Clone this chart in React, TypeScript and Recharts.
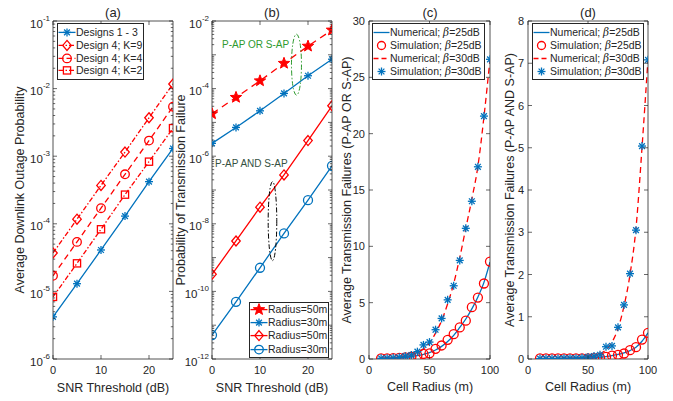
import React from 'react';
import { LineChart, Line, XAxis, YAxis, Legend, ReferenceDot } from 'recharts';

const FONT = '"Liberation Sans", Arial, Helvetica, sans-serif';
const BLUE = '#0072BD';
const RED = '#FF0000';
const AX = '#262626';
const GREEN = '#2e9a2e';
const DARKNOTE = '#34503f';

// ---------- Panel (a) ----------
const snrA = [0, 5, 10, 15, 20, 25];
const designs13 = [4.2e-6, 1.3e-5, 4.1e-5, 1.3e-4, 4.2e-4, 1.3e-3];
const design4K9 = [3.7e-5, 1.17e-4, 3.7e-4, 1.15e-3, 3.7e-3, 1.17e-2];
const design4K4 = [1.7e-5, 5.4e-5, 1.7e-4, 5.4e-4, 1.7e-3, 5.4e-3];
const design4K2 = [8.3e-6, 2.6e-5, 8.3e-5, 2.7e-4, 8.3e-4, 2.6e-3];
const xTicksSnr = [0, 10, 20];
const yDecadesA = [-6, -5, -4, -3, -2, -1];

// ---------- Panel (b) ----------
const snrB = [0, 5, 10, 15, 20, 25];
const orR50 = [1.8e-5, 5.5e-5, 1.7e-4, 5.6e-4, 1.8e-3, 5.4e-3];
const orR30 = [2.4e-6, 7.1e-6, 2.2e-5, 7.2e-5, 2.4e-4, 7.4e-4];
const andR50 = [3.2e-10, 3.1e-9, 3.1e-8, 2.8e-7, 2.9e-6, 3.1e-5];
const andR30 = [5.1e-12, 4.9e-11, 5.0e-10, 5.2e-9, 5.0e-8, 5.2e-7];
const yDecadesB = [-12, -11, -10, -9, -8, -7, -6, -5, -4, -3, -2];
const yLabelDecadesB = [-12, -10, -8, -6, -4, -2];

// ---------- Panels (c) and (d) ----------
const radius = [10, 15, 20, 25, 30, 35, 40, 45, 50, 55, 60, 65, 70, 75, 80, 85, 90, 95, 100];
const orNum25 = [0.05, 0.06, 0.08, 0.1, 0.14, 0.2, 0.29, 0.41, 0.57, 0.8, 1.12, 1.55, 2.1, 2.8, 3.55, 4.45, 5.5, 6.8, 8.6];
const orSim25 = [0.06, 0.06, 0.07, 0.1, 0.15, 0.2, 0.3, 0.45, 0.5, 0.9, 1.2, 1.7, 2.2, 2.8, 3.4, 4.6, 5.45, 6.7, 8.65];
const orNum30 = [0.06, 0.08, 0.11, 0.16, 0.24, 0.37, 0.58, 0.9, 1.4, 2.3, 3.4, 4.9, 6.7, 9.0, 11.6, 14.2, 17.1, 21.5, 26.6];
const orSim30 = [0.06, 0.07, 0.1, 0.15, 0.25, 0.35, 0.65, 1.25, 1.5, 2.6, 3.6, 5.25, 6.5, 8.75, 11.6, 14.0, 17.06, 21.56, 26.6];
const andNum25 = [0.002, 0.003, 0.004, 0.005, 0.007, 0.009, 0.012, 0.016, 0.022, 0.03, 0.042, 0.058, 0.08, 0.108, 0.145, 0.2, 0.28, 0.42, 0.62];
const andSim25 = [0.015, 0.015, 0.015, 0.015, 0.015, 0.015, 0.015, 0.015, 0.015, 0.02, 0.03, 0.05, 0.08, 0.1, 0.13, 0.21, 0.28, 0.46, 0.62];
const andNum30 = [0.004, 0.005, 0.007, 0.009, 0.012, 0.016, 0.022, 0.032, 0.047, 0.07, 0.12, 0.22, 0.4, 0.72, 1.25, 2.0, 3.1, 5.0, 7.1];
const andSim30 = [0.01, 0.01, 0.01, 0.01, 0.02, 0.02, 0.02, 0.03, 0.05, 0.07, 0.1, 0.29, 0.31, 0.75, 1.28, 2.02, 3.05, 5.04, 7.08];
const xTicksRadius = [0, 50, 100];
const yTicksC = [0, 5, 10, 15, 20, 25, 30];
const yTicksD = [0, 1, 2, 3, 4, 5, 6, 7, 8];

// ---------- data tables ----------
const dataA = snrA.map((x, i) => ({ x, d13: designs13[i], k9: design4K9[i], k4: design4K4[i], k2: design4K2[i] }));
const dataB = snrB.map((x, i) => ({ x, o50: orR50[i], o30: orR30[i], a50: andR50[i], a30: andR30[i] }));
const dataC = radius.map((x, i) => ({ x, n25: orNum25[i], s25: orSim25[i], n30: orNum30[i], s30: orSim30[i] }));
const dataD = radius.map((x, i) => ({ x, n25: andNum25[i], s25: andSim25[i], n30: andNum30[i], s30: andSim30[i] }));

const logTicks = (decades: number[]) => {
  const out: number[] = [];
  for (let i = 0; i < decades.length; i++) {
    const e = decades[i];
    if (i === decades.length - 1) { out.push(Math.pow(10, e)); break; }
    for (let k = 1; k <= 9; k++) out.push(k * Math.pow(10, e));
  }
  return out;
};
const logTicksA = logTicks(yDecadesA);
const logTicksB = logTicks(yDecadesB);

// ---------- markers ----------
const asterisk = (cx: number, cy: number, r: number, color: string, key?: any) => (
  <g key={key} stroke={color} strokeWidth={1.3} fill="none">
    <line x1={cx - r} y1={cy} x2={cx + r} y2={cy} />
    <line x1={cx} y1={cy - r} x2={cx} y2={cy + r} />
    <line x1={cx - r * 0.72} y1={cy - r * 0.72} x2={cx + r * 0.72} y2={cy + r * 0.72} />
    <line x1={cx - r * 0.72} y1={cy + r * 0.72} x2={cx + r * 0.72} y2={cy - r * 0.72} />
  </g>
);
const diamond = (cx: number, cy: number, r: number, color: string, key?: any) => (
  <polygon key={key} points={`${cx},${cy - r} ${cx + r * 0.85},${cy} ${cx},${cy + r} ${cx - r * 0.85},${cy}`} fill="none" stroke={color} strokeWidth={1.3} />
);
const circle = (cx: number, cy: number, r: number, color: string, key?: any) => (
  <circle key={key} cx={cx} cy={cy} r={r} fill="none" stroke={color} strokeWidth={1.3} />
);
const square = (cx: number, cy: number, r: number, color: string, key?: any) => (
  <rect key={key} x={cx - r} y={cy - r} width={2 * r} height={2 * r} fill="none" stroke={color} strokeWidth={1.3} />
);
const pentagram = (cx: number, cy: number, r: number, color: string, key?: any) => {
  const pts: string[] = [];
  for (let i = 0; i < 10; i++) {
    const rr = i % 2 === 0 ? r : r * 0.42;
    const a = -Math.PI / 2 + (i * Math.PI) / 5;
    pts.push(`${cx + rr * Math.cos(a)},${cy + rr * Math.sin(a)}`);
  }
  return <polygon key={key} points={pts.join(' ')} fill={color} stroke={color} strokeWidth={1} strokeLinejoin="round" />;
};

type MarkerFn = (cx: number, cy: number, r: number, color: string, key?: any) => React.ReactElement;
const dotOf = (fn: MarkerFn, r: number, color: string) => (p: any) => {
  if (p.cx == null || p.cy == null) return <g key={`e${p.index}`} />;
  return fn(p.cx, p.cy, r, color, `m${p.index}`);
};

// ---------- ticks ----------
const isMajor = (v: number) => {
  const e = Math.floor(Math.log10(v) + 1e-9);
  const m = v / Math.pow(10, e);
  return Math.abs(m - 1) < 1e-3;
};
const makeLogLeftTick = (labelled: number[]) => (props: any) => {
  const { x, y, payload } = props;
  const v = payload.value;
  const major = isMajor(v);
  const e = Math.round(Math.log10(v));
  const show = major && labelled.includes(e);
  return (
    <g>
      <line x1={x} y1={y} x2={x + (major ? 4 : 2.2)} y2={y} stroke={AX} strokeWidth={0.7} />
      {show && (
        <text x={x - 3} y={y + 6.5} textAnchor="end" fontSize={11.5} fill={AX} fontFamily={FONT}>
          10<tspan dy={-7} fontSize={8}>{`-${Math.abs(e)}`}</tspan>
        </text>
      )}
    </g>
  );
};
const logRightTick = (props: any) => {
  const { x, y, payload } = props;
  const major = isMajor(payload.value);
  return <line x1={x} y1={y} x2={x - (major ? 4 : 2.2)} y2={y} stroke={AX} strokeWidth={0.7} />;
};
const linLeftTick = (props: any) => {
  const { x, y, payload } = props;
  return (
    <g>
      <line x1={x} y1={y} x2={x + 4} y2={y} stroke={AX} strokeWidth={0.7} />
      <text x={x - 4} y={y + 4} textAnchor="end" fontSize={11} fill={AX} fontFamily={FONT}>{payload.value}</text>
    </g>
  );
};
const linRightTick = (props: any) => {
  const { x, y } = props;
  return <line x1={x} y1={y} x2={x - 4} y2={y} stroke={AX} strokeWidth={0.7} />;
};
const bottomTick = (props: any) => {
  const { x, y, payload } = props;
  return (
    <g>
      <line x1={x} y1={y} x2={x} y2={y - 4} stroke={AX} strokeWidth={0.7} />
      <text x={x} y={y + 15} textAnchor="middle" fontSize={11} fill={AX} fontFamily={FONT}>{payload.value}</text>
    </g>
  );
};
const topTick = (props: any) => {
  const { x, y } = props;
  return <line x1={x} y1={y} x2={x} y2={y + 4} stroke={AX} strokeWidth={0.7} />;
};

// ---------- legend ----------
type LegItem = { label: React.ReactNode; color: string; dash?: string; line: boolean; marker?: (cx: number, cy: number) => React.ReactNode };
const LegendBox = ({ items, rowH, width, iconW, padTop, padBottom }: { items: LegItem[]; rowH: number; width: number; iconW: number; padTop: number; padBottom: number }) => (
  <div style={{ border: `1px solid ${AX}`, background: '#fff', width, boxSizing: 'border-box', paddingTop: padTop, paddingBottom: padBottom, fontFamily: FONT, fontSize: 10.5, color: AX }}>
    {items.map((it, i) => (
      <div key={i} style={{ height: rowH, display: 'flex', alignItems: 'center', whiteSpace: 'nowrap' }}>
        <svg width={iconW} height={rowH} style={{ flex: 'none', overflow: 'visible' }}>
          {it.line && <line x1={0.5} x2={iconW - 0.5} y1={rowH / 2} y2={rowH / 2} stroke={it.color} strokeWidth={1.3} strokeDasharray={it.dash} />}
          {it.marker && it.marker(iconW / 2, rowH / 2)}
        </svg>
        <span style={{ lineHeight: `${rowH}px` }}>{it.label}</span>
      </div>
    ))}
  </div>
);

const beta = (v: string) => (<>{'; '}<span style={{ fontStyle: 'italic', fontFamily: '"DejaVu Serif", serif' }}>β</span>{`=${v}dB`}</>);

const legendA: LegItem[] = [
  { label: 'Designs 1 - 3', color: BLUE, line: true, marker: (x, y) => asterisk(x, y, 4, BLUE) },
  { label: 'Design 4; K=9', color: RED, line: true, dash: '5 2 1.5 2', marker: (x, y) => diamond(x, y, 5, RED) },
  { label: 'Design 4; K=4', color: RED, line: true, dash: '5 3', marker: (x, y) => circle(x, y, 4.3, RED) },
  { label: 'Design 4; K=2', color: RED, line: true, dash: '5 2 1.5 2', marker: (x, y) => square(x, y, 3.6, RED) },
];
const legendB: LegItem[] = [
  { label: 'Radius=50m', color: RED, line: true, marker: (x, y) => pentagram(x, y, 6, RED) },
  { label: 'Radius=30m', color: BLUE, line: true, marker: (x, y) => asterisk(x, y, 4, BLUE) },
  { label: 'Radius=50m', color: RED, line: true, marker: (x, y) => diamond(x, y, 5, RED) },
  { label: 'Radius=30m', color: BLUE, line: true, marker: (x, y) => circle(x, y, 4.3, BLUE) },
];
const legendCD: LegItem[] = [
  { label: <>Numerical{beta('25')}</>, color: BLUE, line: true },
  { label: <>Simulation{beta('25')}</>, color: RED, line: false, marker: (x, y) => circle(x, y, 4, RED) },
  { label: <>Numerical{beta('30')}</>, color: RED, line: true, dash: '5 3' },
  { label: <>Simulation{beta('30')}</>, color: BLUE, line: false, marker: (x, y) => asterisk(x, y, 4, BLUE) },
];

const legendProps = { layout: 'vertical' as const, align: 'center' as const, verticalAlign: 'middle' as const };

const W = 673;
const H = 401;
const TOP = 21;
const BOTTOM = 359;

const panelMargin = (left: number, right: number) => ({ left: left - 1, right: W - right - 1, top: TOP - 1, bottom: H - BOTTOM - 1 });

const axisCommon = { axisLine: { stroke: AX, strokeWidth: 0.8 }, tickLine: false, tickSize: 0, tickMargin: 0, interval: 0 as const };

const Abs = ({ children }: { children: React.ReactNode }) => (
  <div style={{ position: 'absolute', left: 0, top: 0, width: W, height: H }}>{children}</div>
);

const textStyle: React.CSSProperties = { position: 'absolute', fontFamily: FONT, color: AX, whiteSpace: 'nowrap', lineHeight: 1 };
const Title = ({ cx, cy, text, size = 13 }: { cx: number; cy: number; text: string; size?: number }) => (
  <div style={{ ...textStyle, left: cx, top: cy, fontSize: size, transform: 'translate(-50%, -50%)' }}>{text}</div>
);
const VLabel = ({ cx, cy, text }: { cx: number; cy: number; text: string }) => (
  <div style={{ ...textStyle, left: cx, top: cy, fontSize: 12.5, transform: 'translate(-50%, -50%) rotate(-90deg)' }}>{text}</div>
);

export default function App() {
  return (
    <div style={{ position: 'absolute', left: 0, top: 0, width: W, height: H, background: '#fff', overflow: 'hidden' }}>
      {/* Panel (a) */}
      <Abs>
        <LineChart width={W} height={H} data={dataA} margin={panelMargin(53, 173)} style={{ fontFamily: FONT }}>
          <XAxis dataKey="x" type="number" domain={[0, 25]} ticks={xTicksSnr} height={1} tick={bottomTick} {...axisCommon} allowDataOverflow />
          <XAxis xAxisId="top" orientation="top" dataKey="x" type="number" domain={[0, 25]} ticks={xTicksSnr} height={1} tick={topTick} {...axisCommon} allowDataOverflow />
          <YAxis type="number" scale="log" domain={[1e-6, 1e-1]} ticks={logTicksA} width={1} tick={makeLogLeftTick(yDecadesA)} {...axisCommon} allowDataOverflow />
          <YAxis yAxisId="r" orientation="right" type="number" scale="log" domain={[1e-6, 1e-1]} ticks={logTicksA} width={1} tick={logRightTick} {...axisCommon} allowDataOverflow />
          <Line dataKey="d13" stroke={BLUE} strokeWidth={1.3} dot={dotOf(asterisk, 4, BLUE)} isAnimationActive={false} />
          <Line dataKey="k9" stroke={RED} strokeWidth={1.3} strokeDasharray="5 2 1.5 2" dot={dotOf(diamond, 5, RED)} isAnimationActive={false} />
          <Line dataKey="k4" stroke={RED} strokeWidth={1.3} strokeDasharray="6 4" dot={dotOf(circle, 4.3, RED)} isAnimationActive={false} />
          <Line dataKey="k2" stroke={RED} strokeWidth={1.3} strokeDasharray="5 2 1.5 2" dot={dotOf(square, 3.6, RED)} isAnimationActive={false} />
          <Legend {...legendProps} wrapperStyle={{ left: 57, top: 23, width: 87 }} content={() => <LegendBox items={legendA} rowH={12.8} width={87} iconW={18} padTop={2} padBottom={2} />} />
        </LineChart>
      </Abs>

      {/* Panel (b) */}
      <Abs>
        <LineChart width={W} height={H} data={dataB} margin={panelMargin(212, 332)} style={{ fontFamily: FONT }}>
          <XAxis dataKey="x" type="number" domain={[0, 25]} ticks={xTicksSnr} height={1} tick={bottomTick} {...axisCommon} allowDataOverflow />
          <XAxis xAxisId="top" orientation="top" dataKey="x" type="number" domain={[0, 25]} ticks={xTicksSnr} height={1} tick={topTick} {...axisCommon} allowDataOverflow />
          <YAxis type="number" scale="log" domain={[1e-12, 1e-2]} ticks={logTicksB} width={1} tick={makeLogLeftTick(yLabelDecadesB)} {...axisCommon} allowDataOverflow />
          <YAxis yAxisId="r" orientation="right" type="number" scale="log" domain={[1e-12, 1e-2]} ticks={logTicksB} width={1} tick={logRightTick} {...axisCommon} allowDataOverflow />
          <Line dataKey="o50" stroke={RED} strokeWidth={1.3} strokeDasharray="7 5" dot={dotOf(pentagram, 6, RED)} isAnimationActive={false} />
          <Line dataKey="o30" stroke={BLUE} strokeWidth={1.3} dot={dotOf(asterisk, 4, BLUE)} isAnimationActive={false} />
          <Line dataKey="a50" stroke={RED} strokeWidth={1.3} dot={dotOf(diamond, 5, RED)} isAnimationActive={false} />
          <Line dataKey="a30" stroke={BLUE} strokeWidth={1.3} dot={dotOf(circle, 4.5, BLUE)} isAnimationActive={false} />
          <ReferenceDot x={17.6} y={5.1e-4} r={0} shape={(p: any) => <ellipse cx={p.cx} cy={p.cy} rx={5} ry={30.5} fill="none" stroke={GREEN} strokeWidth={1} strokeDasharray="5 2 1.5 2" />} />
          <ReferenceDot x={12.6} y={1.2e-8} r={0} shape={(p: any) => <ellipse cx={p.cx} cy={p.cy} rx={4.3} ry={39.5} fill="none" stroke="#000" strokeWidth={1} strokeDasharray="5 2 1.5 2" />} />
          <Legend {...legendProps} wrapperStyle={{ left: 249, top: 302, width: 80 }} content={() => <LegendBox items={legendB} rowH={13.2} width={80} iconW={18} padTop={0} padBottom={1} />} />
        </LineChart>
      </Abs>

      {/* Panel (c) */}
      <Abs>
        <LineChart width={W} height={H} data={dataC} margin={panelMargin(369, 490)} style={{ fontFamily: FONT }}>
          <XAxis dataKey="x" type="number" domain={[0, 100]} ticks={xTicksRadius} height={1} tick={bottomTick} {...axisCommon} allowDataOverflow />
          <XAxis xAxisId="top" orientation="top" dataKey="x" type="number" domain={[0, 100]} ticks={xTicksRadius} height={1} tick={topTick} {...axisCommon} allowDataOverflow />
          <YAxis type="number" domain={[0, 30]} ticks={yTicksC} width={1} tick={linLeftTick} {...axisCommon} allowDataOverflow />
          <YAxis yAxisId="r" orientation="right" type="number" domain={[0, 30]} ticks={yTicksC} width={1} tick={linRightTick} {...axisCommon} allowDataOverflow />
          <Line dataKey="n25" type="monotone" stroke={BLUE} strokeWidth={1.3} dot={false} isAnimationActive={false} />
          <Line dataKey="s25" stroke="none" dot={dotOf(circle, 4.5, RED)} isAnimationActive={false} />
          <Line dataKey="n30" type="monotone" stroke={RED} strokeWidth={1.3} strokeDasharray="6 4" dot={false} isAnimationActive={false} />
          <Line dataKey="s30" stroke="none" dot={dotOf(asterisk, 4, BLUE)} isAnimationActive={false} />
          <Legend {...legendProps} wrapperStyle={{ left: 372, top: 23, width: 113 }} content={() => <LegendBox items={legendCD} rowH={13} width={113} iconW={17} padTop={2} padBottom={1} />} />
        </LineChart>
      </Abs>

      {/* Panel (d) */}
      <Abs>
        <LineChart width={W} height={H} data={dataD} margin={panelMargin(528, 648)} style={{ fontFamily: FONT }}>
          <XAxis dataKey="x" type="number" domain={[0, 100]} ticks={xTicksRadius} height={1} tick={bottomTick} {...axisCommon} allowDataOverflow />
          <XAxis xAxisId="top" orientation="top" dataKey="x" type="number" domain={[0, 100]} ticks={xTicksRadius} height={1} tick={topTick} {...axisCommon} allowDataOverflow />
          <YAxis type="number" domain={[0, 8]} ticks={yTicksD} width={1} tick={linLeftTick} {...axisCommon} allowDataOverflow />
          <YAxis yAxisId="r" orientation="right" type="number" domain={[0, 8]} ticks={yTicksD} width={1} tick={linRightTick} {...axisCommon} allowDataOverflow />
          <Line dataKey="n25" type="monotone" stroke={BLUE} strokeWidth={1.3} dot={false} isAnimationActive={false} />
          <Line dataKey="s25" stroke="none" dot={dotOf(circle, 4.5, RED)} isAnimationActive={false} />
          <Line dataKey="n30" type="monotone" stroke={RED} strokeWidth={1.3} strokeDasharray="6 4" dot={false} isAnimationActive={false} />
          <Line dataKey="s30" stroke="none" dot={dotOf(asterisk, 4, BLUE)} isAnimationActive={false} />
          <Legend {...legendProps} wrapperStyle={{ left: 532, top: 23, width: 112 }} content={() => <LegendBox items={legendCD} rowH={13} width={112} iconW={17} padTop={2} padBottom={1} />} />
        </LineChart>
      </Abs>

      {/* Titles and axis labels */}
      <Title cx={113} cy={12} text="(a)" />
      <Title cx={272} cy={12} text="(b)" />
      <Title cx={430} cy={12} text="(c)" />
      <Title cx={588} cy={12} text="(d)" />
      <Title cx={113} cy={388} text="SNR Threshold (dB)" size={12.5} />
      <Title cx={272} cy={388} text="SNR Threshold (dB)" size={12.5} />
      <Title cx={430} cy={387} text="Cell Radius (m)" size={12.5} />
      <Title cx={588} cy={387} text="Cell Radius (m)" size={12.5} />
      <VLabel cx={20} cy={190} text="Average Downlink Outage Probability" />
      <VLabel cx={181} cy={190} text="Probability of Transmission Failure" />
      <VLabel cx={347} cy={190} text="Average Transmission Failures (P-AP OR S-AP)" />
      <VLabel cx={510} cy={190} text="Average Transmission Failures (P-AP AND S-AP)" />
      <div style={{ ...textStyle, left: 222, top: 40, fontSize: 10, color: GREEN }}>P-AP OR S-AP</div>
      <div style={{ ...textStyle, left: 215, top: 159, fontSize: 10, color: DARKNOTE }}>P-AP AND S-AP</div>
    </div>
  );
}
